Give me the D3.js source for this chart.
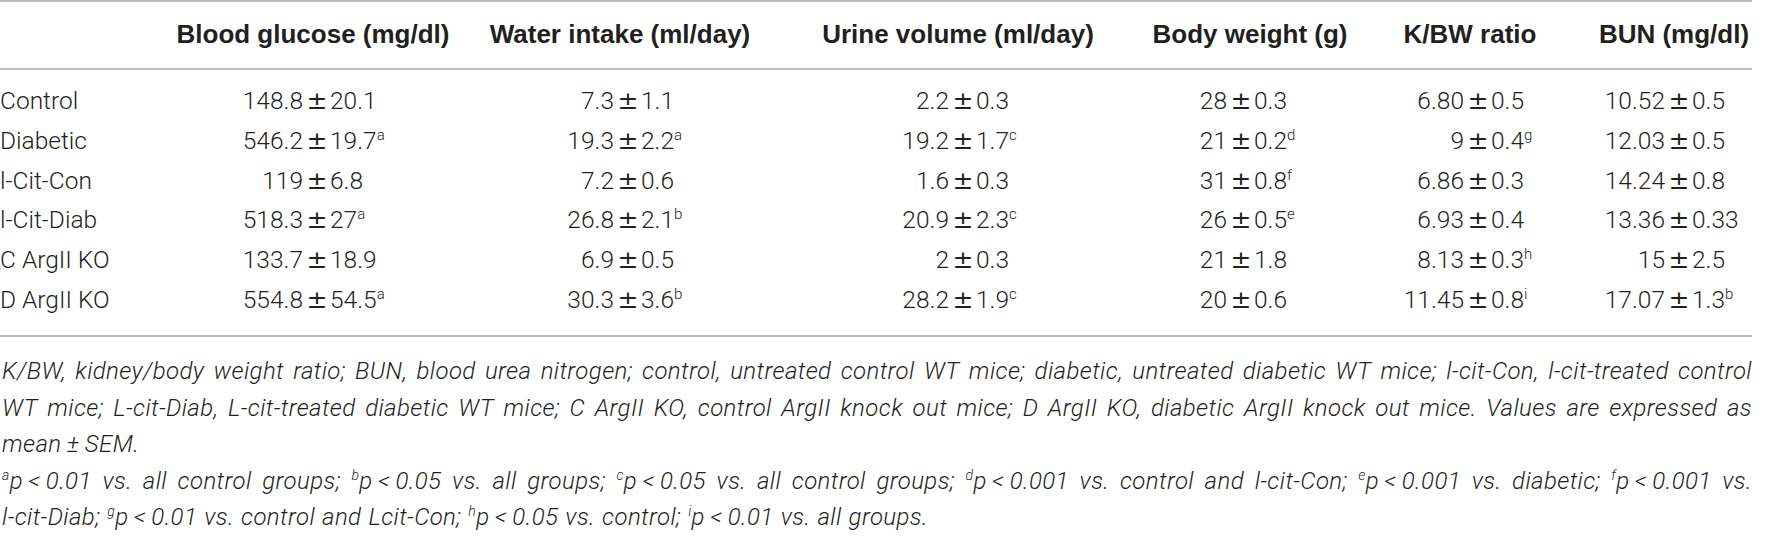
<!DOCTYPE html>
<html>
<head>
<meta charset="utf-8">
<script src="https://d3js.org/d3.v7.min.js"></script>
<style>
  body { margin: 0; background: #fff; }
  svg { display: block; }
  text { fill: #231f20; }
  .hd { font-family: "Liberation Sans", Arial, sans-serif; font-weight: 700; font-size: 26px; }
  .cell { font-family: Roboto, sans-serif; font-weight: 300; font-size: 24.5px; }
  .pm { font-family: "DejaVu Sans", sans-serif; font-size: 25px; }
  .note { font-family: Roboto, sans-serif; font-style: italic; font-weight: 300; font-size: 24px; letter-spacing: 0.4px; }
</style>
</head>
<body>
<svg id="chart"></svg>
<script>
// table content
var groups = ["Control", "Diabetic", "l-Cit-Con", "l-Cit-Diab", "C ArgII KO", "D ArgII KO"]
var columns = ["Blood glucose (mg/dl)", "Water intake (ml/day)", "Urine volume (ml/day)",
               "Body weight (g)", "K/BW ratio", "BUN (mg/dl)"]

// [mean, sem, superscript] per group
var bloodGlucose = [["148.8","20.1",""], ["546.2","19.7","a"], ["119","6.8",""],
                    ["518.3","27","a"], ["133.7","18.9",""], ["554.8","54.5","a"]]
var waterIntake  = [["7.3","1.1",""], ["19.3","2.2","a"], ["7.2","0.6",""],
                    ["26.8","2.1","b"], ["6.9","0.5",""], ["30.3","3.6","b"]]
var urineVolume  = [["2.2","0.3",""], ["19.2","1.7","c"], ["1.6","0.3",""],
                    ["20.9","2.3","c"], ["2","0.3",""], ["28.2","1.9","c"]]
var bodyWeight   = [["28","0.3",""], ["21","0.2","d"], ["31","0.8","f"],
                    ["26","0.5","e"], ["21","1.8",""], ["20","0.6",""]]
var kbwRatio     = [["6.80","0.5",""], ["9","0.4","g"], ["6.86","0.3",""],
                    ["6.93","0.4",""], ["8.13","0.3","h"], ["11.45","0.8","i"]]
var bun          = [["10.52","0.5",""], ["12.03","0.5",""], ["14.24","0.8",""],
                    ["13.36","0.33",""], ["15","2.5",""], ["17.07","1.3","b"]]
var columnValues = [bloodGlucose, waterIntake, urineVolume, bodyWeight, kbwRatio, bun]

// footnotes, ^x marks a superscript letter
var notes = [
  "K/BW, kidney/body weight ratio; BUN, blood urea nitrogen; control, untreated control WT mice; diabetic, untreated diabetic WT mice; l-cit-Con, l-cit-treated control",
  "WT mice; L-cit-Diab, L-cit-treated diabetic WT mice; C ArgII KO, control ArgII knock out mice; D ArgII KO, diabetic ArgII knock out mice. Values are expressed as",
  "mean\u2009±\u2009SEM.",
  "^ap\u2009<\u20090.01 vs. all control groups; ^bp\u2009<\u20090.05 vs. all groups; ^cp\u2009<\u20090.05 vs. all control groups; ^dp\u2009<\u20090.001 vs. control and l-cit-Con; ^ep\u2009<\u20090.001 vs. diabetic; ^fp\u2009<\u20090.001 vs.",
  "l-cit-Diab; ^gp\u2009<\u20090.01 vs. control and Lcit-Con; ^hp\u2009<\u20090.05 vs. control; ^ip\u2009<\u20090.01 vs. all groups."
]
var notesJustified = [true, true, false, true, false]

var width = 1775, height = 536
var tableRight = 1752

var svg = d3.select("#chart").attr("width", width).attr("height", height)

// scales
var y = d3.scalePoint().domain(groups).range([109, 308])
var headX = d3.scaleOrdinal().domain(columns).range([313, 620, 958, 1250, 1470, 1674])
var pmX = d3.scaleOrdinal().domain(columns).range([317, 628, 963, 1241, 1478, 1679])
var noteY = d3.scalePoint().domain(d3.range(notes.length)).range([379, 525])

// rules
svg.selectAll("line.rule")
  .data([1, 69, 336])
  .enter().append("line")
    .attr("x1", 0).attr("x2", tableRight)
    .attr("y1", d => d).attr("y2", d => d)
    .attr("stroke", "#bdbdbd").attr("stroke-width", 2)

// header
svg.selectAll("text.hd")
  .data(columns)
  .enter().append("text")
    .attr("class", "hd")
    .attr("x", d => headX(d))
    .attr("y", 43)
    .attr("text-anchor", "middle")
    .text(d => d)

// row labels
svg.selectAll("text.rowlab")
  .data(groups)
  .enter().append("text")
    .attr("class", "cell")
    .attr("x", 0)
    .attr("y", d => y(d))
    .text(d => d)

// cells: mean, ±, sem(+superscript), aligned on the ± sign
columns.forEach(function(col, ci){
  var g = svg.append("g")
  var vals = columnValues[ci]
  g.selectAll("text.mean").data(vals).enter().append("text")
    .attr("class", "cell")
    .attr("x", pmX(col) - 14)
    .attr("y", (d, i) => y(groups[i]))
    .attr("text-anchor", "end")
    .text(d => d[0])
  g.selectAll("text.pm").data(vals).enter().append("text")
    .attr("class", "pm")
    .attr("x", pmX(col))
    .attr("y", (d, i) => y(groups[i]))
    .attr("text-anchor", "middle")
    .text("±")
  var sem = g.selectAll("text.sem").data(vals).enter().append("text")
    .attr("class", "cell")
    .attr("x", pmX(col) + 13)
    .attr("y", (d, i) => y(groups[i]))
  sem.append("tspan").text(d => d[1])
  sem.filter(d => d[2]).append("tspan")
    .attr("font-size", 15)
    .attr("dy", -9)
    .text(d => d[2])
})

// footnotes, word by word so full lines can be justified
var noteG = svg.append("g")
notes.forEach(function(line, li){
  var yy = noteY(li)
  var words = line.split(" ")
  var nodes = words.map(function(w){
    var t = noteG.append("text").attr("class", "note").attr("y", yy)
    var shift = 0
    w.split(/(\^.)/).forEach(function(part){
      if (!part) return
      if (part[0] === "^") {
        t.append("tspan").attr("font-size", 14).attr("dy", -9 - shift).text(part[1])
        shift = -9
      } else {
        t.append("tspan").attr("dy", -shift).text(part)
        shift = 0
      }
    })
    return t
  })
  var widths = nodes.map(t => t.node().getComputedTextLength())
  var total = d3.sum(widths)
  var x0 = 2
  var gap = notesJustified[li] ? (tableRight - x0 - total) / (words.length - 1) : 7
  var x = x0
  nodes.forEach(function(t, i){
    t.attr("x", x)
    x += widths[i] + gap
  })
})
</script>
</body>
</html>
